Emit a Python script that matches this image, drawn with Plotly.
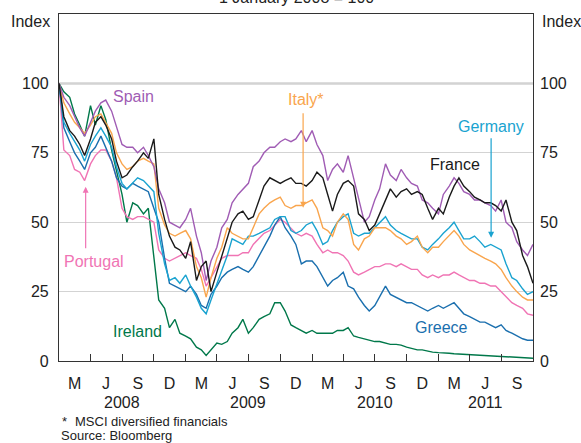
import pandas as pd
import plotly.graph_objects as go

# semi-monthly observations, 1 Jan 2008 to 1 Oct 2011
dates = pd.date_range("2008-01-01", periods=91, freq="SMS")

spain = [100, 95, 92, 88, 84, 81, 86, 90, 93, 94,
         90, 84, 78, 77, 77, 75, 77, 74, 70, 62,
         57, 50, 49, 48, 51, 55, 45, 39, 29, 36,
         41, 48, 51, 57, 60, 62, 64, 70, 72, 75,
         77, 77, 79, 80, 79, 80, 83, 79, 83, 78,
         74, 65, 69, 71, 68, 74, 66, 58, 50, 52,
         58, 62, 71, 67, 65, 69, 66, 64, 63, 58,
         57, 55, 53, 60, 63, 66, 64, 61, 60, 58,
         58, 57, 56, 54, 58, 50, 48, 43, 40, 38, 42]
france = [100, 88, 83, 81, 78, 74, 80, 86, 88, 85,
          80, 72, 66, 67, 70, 72, 75, 73, 80, 60,
          51, 45, 41, 40, 37, 43, 29, 34, 36, 25,
          32, 38, 44, 50, 53, 54, 51, 52, 58, 63,
          66, 65, 64, 65, 66, 64, 64, 63, 65, 68,
          66, 60, 54, 60, 64, 65, 63, 53, 51, 47,
          49, 53, 58, 62, 59, 61, 62, 60, 61, 60,
          55, 51, 55, 53, 59, 63, 66, 63, 61, 59,
          58, 57, 57, 56, 54, 58, 50, 47, 38, 34, 28]
italy = [100, 93, 89, 86, 84, 82, 85, 88, 89, 86,
         82, 75, 71, 69, 70, 72, 73, 72, 71, 55,
         49, 46, 45, 46, 47, 44, 34, 30, 23, 30,
         37, 41, 48, 46, 45, 44, 44, 48, 53, 55,
         57, 58, 59, 56, 55, 56, 56, 57, 58, 55,
         48, 47, 45, 50, 53, 51, 42, 40, 44, 45,
         48, 48, 48, 47, 45, 44, 42, 43, 45, 41,
         39, 41, 41, 43, 45, 47, 45, 42, 40, 39,
         38, 37, 36, 35, 33, 30, 27, 25, 23, 22, 22]
germany = [100, 86, 82, 79, 76, 72, 78, 81, 84, 81,
           77, 70, 64, 62, 64, 66, 65, 63, 61, 46,
           35, 29, 30, 28, 31, 27, 23, 19, 17, 22,
           28, 33, 38, 44, 43, 42, 45, 45, 46, 47,
           48, 51, 52, 52, 47, 46, 47, 49, 50, 47,
           42, 43, 47, 50, 52, 53, 46, 45, 46, 46,
           48, 50, 52, 49, 47, 46, 45, 44, 44, 41,
           40, 42, 44, 46, 48, 50, 47, 44, 44, 45,
           43, 41, 42, 41, 40, 35, 30, 29, 26, 24, 25]
greece = [100, 84, 79, 75, 72, 69, 75, 77, 81, 77,
          72, 66, 63, 62, 64, 63, 62, 61, 55, 50,
          37, 28, 27, 26, 25, 27, 24, 20, 19, 24,
          27, 30, 32, 33, 34, 33, 32, 34, 38, 41,
          45, 49, 52, 48, 45, 42, 35, 36, 36, 34,
          30, 27, 29, 30, 32, 27, 26, 23, 20, 18,
          20, 23, 27, 24, 23, 22, 21, 21, 20, 19,
          18, 19, 20, 19, 20, 21, 19, 17, 16, 15,
          14, 14, 13, 12, 13, 11, 10, 9, 8, 7.5, 7.5]
portugal = [100, 76, 74, 69, 68, 65, 71, 74, 76, 76,
            72, 66, 55, 52, 51, 52, 52, 51, 50, 40,
            37, 36, 37, 38, 39, 38, 37, 33, 27, 30,
            34, 37, 38, 38, 38, 39, 39, 42, 44, 46,
            47, 49, 51, 50, 48, 46, 45, 46, 45, 42,
            39, 40, 39, 39, 38, 36, 32, 31, 32, 33,
            34, 34, 35, 35, 34, 35, 34, 33, 33, 31,
            30, 31, 30, 31, 31, 32, 31, 30, 29, 29,
            28, 28, 27, 27, 25, 23, 21, 20, 19, 17, 16.5]
ireland = [100, 97, 95, 89, 85, 81, 92, 85, 92, 87,
           76, 68, 60, 50, 57, 56, 53, 55, 37, 22,
           19, 12, 15, 10, 9, 8, 5, 4, 2, 4,
           6.5, 6, 7, 10, 12, 15, 10, 12, 15, 16,
           17, 21, 21, 18, 13, 12, 11, 10, 11, 10,
           10, 10, 10, 11, 11, 12, 9, 8.5, 8, 7.5,
           7, 7, 6.5, 6, 6, 5.7, 5, 4.5, 4, 4,
           3.5, 3.2, 3, 3, 2.8, 2.6, 2.5, 2.3, 2.2, 2,
           1.9, 1.8, 1.7, 1.6, 1.5, 1.4, 1.3, 1.2, 1.1, 1.0, 1.0]

quarter_ends = pd.date_range("2008-04-01", "2011-07-01", freq="QS")
quarter_mids = pd.to_datetime([
    "2008-02-15", "2008-05-16", "2008-08-16", "2008-11-15",
    "2009-02-15", "2009-05-16", "2009-08-16", "2009-11-15",
    "2010-02-15", "2010-05-16", "2010-08-16", "2010-11-15",
    "2011-02-15", "2011-05-16", "2011-08-16"])
quarter_text = ["M", "J", "S", "D"] * 3 + ["M", "J", "S"]
years = ["2008", "2009", "2010", "2011"]
year_mids = ["2008-07-01", "2009-07-01", "2010-07-01", "2011-05-16"]

SPAIN = "#a05cb4"
FRANCE = "#1a1a1a"
ITALY = "#f9a54d"
GERMANY = "#1aa3d0"
GREECE = "#1a6fae"
PORTUGAL = "#f074b4"
IRELAND = "#00784a"
FONT = "Liberation Sans, Arial, sans-serif"

fig = go.Figure()
series = [("Ireland", ireland, IRELAND), ("Portugal", portugal, PORTUGAL),
          ("Greece", greece, GREECE), ("Germany", germany, GERMANY),
          ("Italy", italy, ITALY), ("Spain", spain, SPAIN), ("France", france, FRANCE)]
for name, vals, color in series:
    fig.add_trace(go.Scatter(x=dates, y=vals, mode="lines", name=name,
                             line=dict(color=color, width=1.4), showlegend=False))
# invisible trace to carry the right-hand axis
fig.add_trace(go.Scatter(x=dates[:1], y=[0], yaxis="y2", mode="markers",
                         marker=dict(opacity=0), showlegend=False, hoverinfo="skip"))

fig.add_hline(y=100, line_color="#7a7a7a", line_width=1.5, layer="below")

# series labels
labels = [("Spain", "2008-08-03", 95.2, SPAIN), ("Italy*", "2009-12-15", 94.2, ITALY),
          ("Germany", "2011-06-02", 84.4, GERMANY), ("France", "2011-02-19", 70.7, FRANCE),
          ("Greece", "2011-01-10", 11.9, GREECE), ("Portugal", "2008-04-12", 35.7, PORTUGAL),
          ("Ireland", "2008-08-15", 10.5, IRELAND)]
for text, x, y, color in labels:
    fig.add_annotation(x=x, y=y, text=text, showarrow=False,
                       font=dict(size=16, color=color, family=FONT))

# arrows
arrows = [("2009-12-06", 55.2, -96, ITALY), ("2011-06-02", 44.4, -101, GERMANY),
          ("2008-03-18", 62.8, 63, PORTUGAL)]
for x, y, ay, color in arrows:
    fig.add_annotation(x=x, y=y, ax=0, ay=ay, text="", showarrow=True,
                       arrowhead=2, arrowsize=1, arrowwidth=1.2, arrowcolor=color,
                       standoff=0)

# year labels
for yr, xm in zip(years, year_mids):
    fig.add_annotation(x=xm, y=-0.121, yref="paper", text=yr, showarrow=False,
                       yanchor="middle", font=dict(size=16, color="#222", family=FONT))

# header and footnotes
fig.add_annotation(x=0.5, y=1.047, xref="paper", yref="paper", text="1 January 2008 = 100",
                   showarrow=False, yanchor="middle", font=dict(size=16, color="#222", family=FONT))
fig.add_annotation(x=-0.06, y=1.0, xref="paper", yref="paper", text="Index", showarrow=False,
                   xanchor="center", yanchor="middle", yshift=-7,
                   font=dict(size=16, color="#222", family=FONT))
fig.add_annotation(x=1.06, y=1.0, xref="paper", yref="paper", text="Index", showarrow=False,
                   xanchor="center", yanchor="middle", yshift=-7,
                   font=dict(size=16, color="#222", family=FONT))
fig.add_annotation(x=0.003, y=-0.173, xref="paper", yref="paper", text="*", showarrow=False,
                   xanchor="left", yanchor="middle", font=dict(size=13, color="#222", family=FONT))
fig.add_annotation(x=0.03, y=-0.173, xref="paper", yref="paper",
                   text="MSCI diversified financials", showarrow=False,
                   xanchor="left", yanchor="middle", font=dict(size=13, color="#222", family=FONT))
fig.add_annotation(x=0.0, y=-0.216, xref="paper", yref="paper", text="Source: Bloomberg",
                   showarrow=False, xanchor="left", yanchor="middle",
                   font=dict(size=13, color="#222", family=FONT))

axis_line = "#333333"
fig.update_layout(
    width=581, height=443,
    margin=dict(l=59, r=48, t=14, b=82),
    paper_bgcolor="white", plot_bgcolor="white",
    font=dict(family=FONT, size=16, color="#222"),
    xaxis=dict(range=["2008-01-01", "2011-10-01"], tickmode="array",
               tickvals=quarter_mids, ticktext=quarter_text, ticks="", ticklabelstandoff=8,
               showgrid=False, showline=True, linecolor=axis_line, linewidth=1.2, mirror=True,
               minor=dict(tickmode="array", tickvals=quarter_ends, ticks="inside",
                          ticklen=7, tickcolor=axis_line, tickwidth=1, showgrid=False),
               tickfont=dict(size=16)),
    yaxis=dict(range=[0, 125], tickvals=[0, 25, 50, 75, 100], ticks="",
               showgrid=True, gridcolor="#d3d3d3", gridwidth=1, zeroline=False,
               showline=True, linecolor=axis_line, linewidth=1.2, mirror=True,
               ticklabelstandoff=6, tickfont=dict(size=16)),
    yaxis2=dict(range=[0, 125], tickvals=[0, 25, 50, 75, 100], overlaying="y", side="right",
                ticks="", showgrid=False, zeroline=False, showline=False,
                ticklabelstandoff=6, tickfont=dict(size=16)),
)

# drop the browser's default page margin so the figure sits at the window's corner
fig.write_html("out.html", config={"displayModeBar": False},
               post_script="document.body.style.margin='0px';")
